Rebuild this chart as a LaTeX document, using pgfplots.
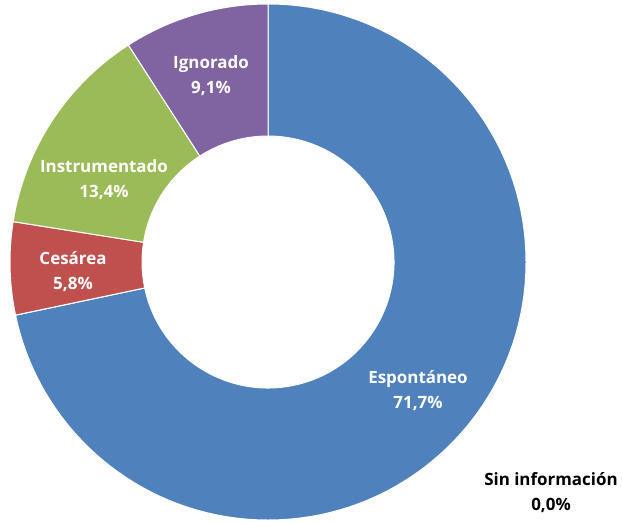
\documentclass[border=0pt]{standalone}
\usepackage{pgfplots}
\usepackage{pgfplotstable}
\pgfplotsset{compat=1.18}
\usepackage{fontspec}
\setmainfont{Open Sans}

\definecolor{espC}{HTML}{4F81BD}
\definecolor{sinC}{HTML}{4BACC6}
\definecolor{cesC}{HTML}{C0504D}
\definecolor{insC}{HTML}{9BBB59}
\definecolor{ignC}{HTML}{8064A2}

% porcentajes, en el orden del grafico (sentido horario desde arriba)
\pgfplotstableread{
value col
71.7 espC
0.0  sinC
5.8  cesC
13.4 insC
9.1  ignC
}\partos

\begin{document}
\begin{tikzpicture}
\begin{axis}[
    scale only axis,
    width=622bp, height=523bp,
    xmin=0, xmax=622, ymin=0, ymax=523,
    y dir=reverse,
    hide axis,
    clip=false,
]
    \pgfplotstablegetrowsof{\partos}
    \pgfmathtruncatemacro\lastrow{\pgfplotsretval-1}
    \gdef\curang{90}
    \foreach \i in {0,...,\lastrow}{
        \pgfplotstablegetelem{\i}{value}\of\partos \let\v\pgfplotsretval
        \pgfplotstablegetelem{\i}{col}\of\partos \let\c\pgfplotsretval
        \pgfmathsetmacro\a{\curang}
        \pgfmathsetmacro\b{\curang-3.6*\v}
        \xdef\curang{\b}
        \edef\temp{\noexpand\filldraw[fill=\c, draw=white, line width=1bp]
            ([shift={(\a:258bp)}]axis cs:268,262)
            arc[start angle=\a, end angle=\b, radius=258bp]
            -- ([shift={(\b:126bp)}]axis cs:268,262)
            arc[start angle=\b, end angle=\a, radius=126bp] -- cycle;}
        \temp
    }

    % etiquetas
    \begin{scope}[every node/.style={font=\bfseries\fontsize{17}{25}\selectfont, align=center, text=white}]
        \node at (axis cs:418,391) {Espontáneo\\71,7\%};
        \node at (axis cs:211,76) {Ignorado\\9,1\%};
        \node at (axis cs:104,180) {Instrumentado\\13,4\%};
        \node at (axis cs:73,272) {Cesárea\\5,8\%};
        \node[text=black] at (axis cs:551,493) {Sin información\\0,0\%};
    \end{scope}
\end{axis}
\pgfresetboundingbox
\path (current axis.south west) rectangle (current axis.north east);
\end{tikzpicture}
\end{document}
